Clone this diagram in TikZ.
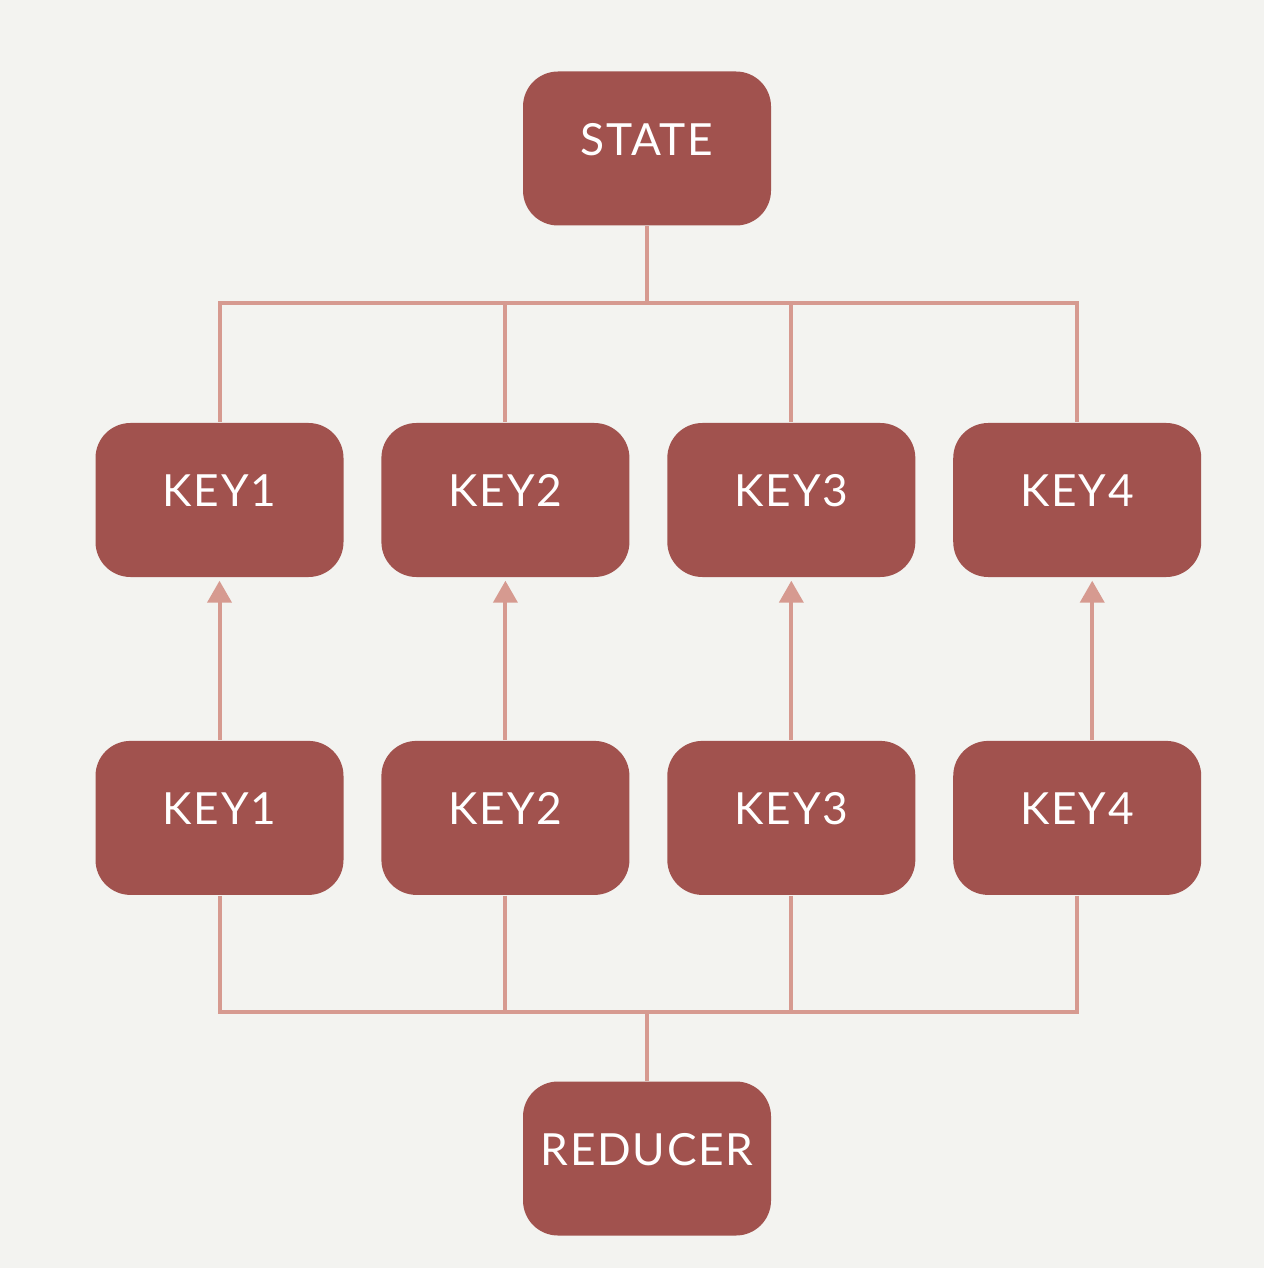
\documentclass[tikz,border=0pt]{standalone}
\usepackage{fontspec}
\setmainfont{Lato}[LetterSpace=4]
\usetikzlibrary{positioning,arrows.meta}
\definecolor{boxred}{HTML}{A1524E}
\definecolor{linkpink}{HTML}{D69A90}
\definecolor{paper}{HTML}{F3F3F0}

\begin{document}
\begin{tikzpicture}[node distance=0.365cm]
   \tikzset{block/.style = {rectangle, rounded corners=0.35cm, fill=boxred, text=white,
       minimum width=2.48cm, minimum height=1.54cm, inner sep=0pt,
       text height=0.34cm, text depth=0.2cm,
       font=\fontsize{12.6}{15}\selectfont}, }
   \tikzset{link/.style = {draw=linkpink, line width=0.04cm}, }
   \tikzset{feed/.style = {link, -{Triangle[width=0.24cm,length=0.22cm]}, shorten >=0.03cm}, }

   % paper
   \fill[paper] (0,0) rectangle (12.64,-12.68);
   \useasboundingbox (0,0) rectangle (12.64,-12.68);

   \node[block] (state) at (6.47,-1.485) {STATE};
   \node[block] (a1) at (2.195,-5.00) {KEY1};
   \node[block, right =of a1] (a2) {KEY2};
   \node[block, right =of a2] (a3) {KEY3};
   \node[block, right =of a3] (a4) {KEY4};
   \node[block, below =1.625cm of a1] (b1) {KEY1};
   \node[block, right =of b1] (b2) {KEY2};
   \node[block, right =of b2] (b3) {KEY3};
   \node[block, right =of b3] (b4) {KEY4};
   \node[block] (reducer) at (6.47,-11.585) {REDUCER};

   \coordinate (bus1) at (6.47,-3.03);
   \coordinate (bus2) at (6.47,-10.12);

   % state to keys
   \foreach \k in {1,...,4}
     \draw[link] (state.south) -- (bus1) -| (a\k.north);
   % keys up
   \foreach \k in {1,...,3}
     \draw[feed] (b\k.north) -- (a\k.south);
   \draw[feed] ([xshift=0.15cm]b4.north) -- ([xshift=0.15cm]a4.south);
   % keys to reducer
   \foreach \k in {1,...,4}
     \draw[link] (b\k.south) |- (bus2) -- (reducer.north);

\end{tikzpicture}
\end{document}
